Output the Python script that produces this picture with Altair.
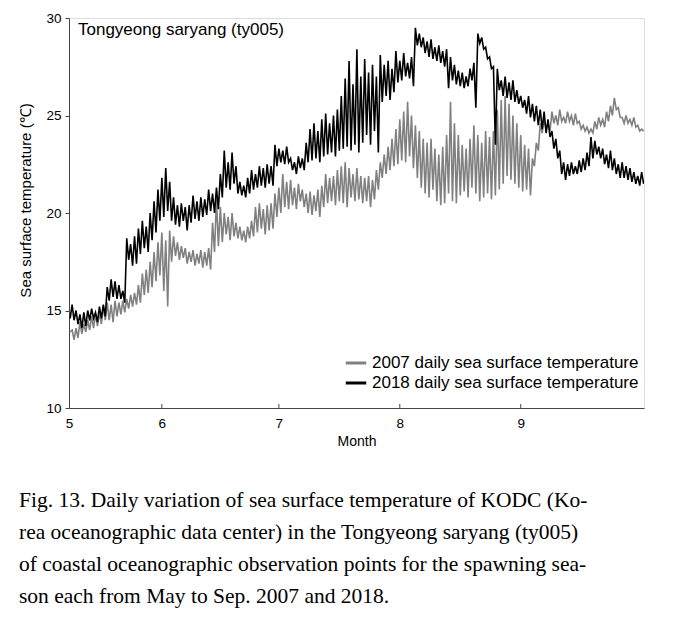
import altair as alt
import pandas as pd

# x = days since 1 May (tick positions mark month starts); domain from ~8 May to ~1 Oct
x_domain = [7.2, 154.6]
tick_pos = [7.2, 31, 61, 92, 123]
tick_lab = ["5", "6", "7", "8", "9"]

days = list(range(7, 155))

hi_2018 = [15.2, 15.3, 15.0, 14.8, 14.9, 15.0, 15.1, 14.9, 15.2, 15.3,
           16.2, 16.6, 16.5, 16.3, 16.0, 18.7, 18.4, 18.8, 19.2, 19.6,
           19.3, 20.0, 20.6, 21.2, 21.8, 22.3, 21.6, 20.8, 20.4, 20.5,
           20.3, 20.4, 20.9, 20.6, 20.8, 20.7, 21.2, 21.0, 21.3, 22.0,
           23.2, 22.6, 23.1, 22.4, 21.6, 21.4, 21.8, 22.2, 22.0, 22.4,
           22.3, 22.5, 22.4, 23.5, 23.3, 23.2, 23.4, 22.8, 22.6, 22.9,
           22.8, 23.6, 24.3, 24.6, 24.2, 24.8, 25.1, 24.6, 25.0, 25.3,
           26.0, 26.9, 27.8, 26.6, 28.4, 27.0, 27.9, 27.2, 27.6, 27.0,
           28.1, 27.6, 27.8, 27.4, 28.3, 27.8, 28.2, 27.7, 28.0, 29.5,
           29.2, 29.0, 28.8, 28.9, 28.5, 28.6, 28.3, 28.4, 28.0, 27.6,
           27.3, 27.2, 27.0, 27.4, 27.7, 29.2, 29.0, 28.5, 28.0, 27.5,
           27.4, 26.8, 27.0, 26.7, 26.8, 26.3, 26.0, 25.8, 26.0, 25.6,
           25.5, 25.3, 25.2, 24.8, 24.2, 23.8, 23.2, 22.6, 22.5, 22.6,
           22.4, 22.7, 22.8, 23.1, 23.9, 23.7, 23.4, 23.3, 23.0, 23.2,
           22.8, 22.5, 22.6, 22.4, 22.3, 22.1, 21.9, 22.1]
lo_2018 = [14.6, 14.5, 14.3, 14.1, 14.2, 14.5, 14.6, 14.4, 14.6, 14.7,
           15.5, 15.7, 15.6, 15.6, 15.4, 17.6, 17.3, 17.4, 17.9, 18.2,
           18.0, 18.6, 19.0, 19.6, 19.8, 20.1, 19.6, 19.4, 19.3, 19.6,
           19.1, 19.5, 19.7, 19.6, 19.8, 19.9, 20.1, 20.0, 20.2, 20.8,
           21.3, 21.2, 21.5, 21.0, 20.9, 20.8, 21.0, 21.2, 21.3, 21.4,
           21.3, 21.5, 21.4, 22.4, 22.6, 22.5, 22.6, 22.2, 22.0, 22.3,
           22.2, 22.6, 22.7, 22.8, 22.6, 22.9, 23.0, 23.1, 22.9, 23.2,
           23.3, 23.4, 23.2, 23.5, 23.1, 23.6, 24.0, 23.5, 24.2, 23.1,
           25.7, 26.0, 25.8, 26.2, 26.7, 26.8, 27.0, 26.9, 26.5, 28.6,
           28.5, 28.2, 28.0, 27.9, 27.8, 27.7, 27.5, 26.4, 26.8, 26.6,
           26.5, 26.4, 26.5, 26.8, 25.4, 28.7, 28.4, 27.9, 27.4, 23.5,
           26.3, 26.0, 25.9, 25.8, 25.7, 25.6, 25.4, 25.1, 24.9, 24.7,
           24.5, 24.3, 24.1, 23.9, 23.3, 22.8, 22.0, 21.7, 21.9, 22.0,
           22.0, 22.1, 22.2, 22.4, 22.8, 23.0, 22.8, 22.5, 22.3, 22.2,
           22.0, 21.8, 21.8, 21.7, 21.6, 21.5, 21.4, 21.5]

hi_2007 = [14.3, 14.0, 14.1, 14.4, 14.3, 14.5, 14.7, 14.8, 14.9, 15.2,
           15.4, 15.3, 15.5, 15.4, 15.5, 15.6, 15.8, 15.9, 16.3, 16.9,
           17.1, 17.5, 18.0, 18.5, 19.0, 18.6, 19.1, 18.8, 18.5, 18.3,
           18.2, 18.0, 18.1, 17.9, 18.1, 18.0, 18.2, 19.5, 20.7, 20.3,
           20.0, 19.8, 20.0, 19.5, 19.3, 19.1, 19.3, 19.6, 20.3, 20.5,
           20.2, 20.4, 20.5, 21.0, 21.3, 22.0, 21.6, 21.7, 21.3, 21.5,
           21.2, 21.0, 21.1, 20.9, 21.2, 21.4, 22.0, 21.8, 21.9, 22.2,
           22.4, 22.6, 22.3, 22.0, 22.3, 21.9, 21.8, 21.9, 21.7, 22.2,
           22.6, 23.0, 23.4, 23.8, 24.3, 24.8, 25.2, 25.7, 25.0, 24.5,
           24.2, 23.8, 23.6, 23.8, 23.3, 23.0, 23.4, 24.0, 25.7, 24.6,
           24.0, 23.5, 23.3, 23.8, 24.5, 24.0, 23.6, 24.2, 23.9, 24.2,
           25.3, 25.8, 26.0, 25.6, 25.0, 24.6, 24.0, 23.5, 23.3, 22.8,
           23.6, 24.6, 24.8, 24.6, 25.2, 25.0, 25.3, 24.9, 25.2, 25.0,
           25.1, 24.7, 24.5, 24.4, 24.3, 24.7, 24.9, 24.8, 25.2, 25.5,
           25.9, 25.4, 24.9, 25.0, 24.8, 24.9, 24.5, 24.3]
lo_2007 = [13.9, 13.5, 13.6, 13.8, 13.9, 14.0, 14.1, 14.2, 14.3, 14.5,
           14.5, 14.4, 14.7, 14.8, 14.9, 15.1, 15.2, 15.3, 15.4, 15.8,
           15.9, 16.2, 16.5, 16.8, 16.0, 15.2, 17.5, 17.8, 17.6, 17.7,
           17.4, 17.5, 17.3, 17.4, 17.2, 17.3, 17.1, 18.0, 18.3, 18.5,
           18.9, 18.6, 18.8, 18.7, 18.6, 18.5, 18.7, 18.8, 19.0, 19.2,
           18.9, 19.1, 19.2, 19.8, 20.0, 20.3, 20.2, 20.4, 20.2, 20.6,
           20.3, 20.0, 19.9, 20.1, 19.8, 20.3, 20.5, 20.6, 20.4, 20.6,
           20.5, 20.3, 20.8, 20.6, 20.7, 20.5, 20.6, 20.3, 20.7, 21.2,
           21.8, 22.0, 22.2, 22.4, 22.5, 22.7, 22.6, 22.9, 22.3, 21.8,
           21.3, 21.0, 20.8, 21.2, 20.6, 20.4, 20.5, 21.0, 20.6, 20.5,
           20.9, 21.1, 20.8, 21.3, 21.0, 20.6, 20.8, 21.0, 20.7, 20.9,
           21.2, 21.5, 21.9, 21.7, 21.5, 21.3, 21.1, 21.2, 20.9, 22.4,
           23.2, 24.1, 24.3, 24.2, 24.6, 24.5, 24.7, 24.6, 24.7, 24.5,
           24.6, 24.3, 24.2, 24.1, 24.1, 24.3, 24.5, 24.4, 24.7, 25.0,
           25.3, 24.9, 24.6, 24.6, 24.5, 24.4, 24.2, 24.2]

series_names = ["2007 daily sea surface temperature", "2018 daily sea surface temperature"]
series_colors = ["#808080", "#000000"]

caption = [
    "Fig. 13. Daily variation of sea surface temperature of KODC (Ko-",
    "rea oceanographic data center) in the Tongyeong saryang (ty005)",
    "of coastal oceanographic observation points for the spawning sea-",
    "son each from May to Sep. 2007 and 2018.",
]

rows = []
for name, hi, lo in [(series_names[0], hi_2007, lo_2007), (series_names[1], hi_2018, lo_2018)]:
    for d, h, l in zip(days, hi, lo):
        rows.append({"day": d, "sst": h, "series": name})
        rows.append({"day": d + 0.5, "sst": l, "series": name})
df = pd.DataFrame(rows)
df = df[(df["day"] >= x_domain[0]) & (df["day"] <= x_domain[1])]

W, H = 575, 390
label_expr = "{" + ",".join(f"'{p}':'{l}'" for p, l in zip(tick_pos, tick_lab)) + "}[datum.value]"

xscale = alt.Scale(domain=x_domain, nice=False, zero=False)
yscale = alt.Scale(domain=[10, 30], nice=False, zero=False)

lines = alt.Chart(df).mark_line(strokeWidth=1.6, clip=True).encode(
    x=alt.X("day:Q", scale=xscale,
            axis=alt.Axis(title="Month", values=tick_pos, labelExpr=label_expr, ticks=False,
                          labelPadding=8, titlePadding=5, labelFontSize=13.5, titleFontSize=14,
                          titleFontWeight="normal", domainColor="#444", labelColor="black",
                          titleColor="black", grid=False, labelFlush=False)),
    y=alt.Y("sst:Q", scale=yscale,
            axis=alt.Axis(title="Sea surface temperature (℃)", values=[10, 15, 20, 25, 30],
                          tickSize=4, labelPadding=4, titlePadding=12, labelFontSize=13.5,
                          titleFontSize=15, titleY=182, titleFontWeight="normal", domainColor="#444",
                          tickColor="#444", labelColor="black", titleColor="black", grid=False)),
    color=alt.Color("series:N", scale=alt.Scale(domain=series_names, range=series_colors),
                    legend=alt.Legend(title=None, orient="none", legendX=275, legendY=333,
                                      symbolType="stroke", symbolStrokeWidth=3, symbolSize=420,
                                      labelFontSize=17, labelLimit=0, rowPadding=0,
                                      labelOffset=4,
                                      labelColor="black", labelFont="Liberation Sans")),
    detail="series:N",
    order="day:Q",
)

ticks_df = pd.DataFrame({"pos": tick_pos[1:]})
xticks = alt.Chart(ticks_df).mark_rule(color="#444", strokeWidth=1).encode(
    x=alt.X("pos:Q", scale=xscale),
    y=alt.value(H),
    y2=alt.value(H - 4),
)

label = alt.Chart(pd.DataFrame({"t": ["Tongyeong saryang (ty005)"]})).mark_text(
    align="left", baseline="middle", fontSize=17, font="Liberation Sans", color="black"
).encode(text="t:N", x=alt.value(9), y=alt.value(12))

chart = alt.layer(lines, xticks, label).properties(
    width=W, height=H,
    padding={"left": 10, "top": 3, "right": 10, "bottom": 5},
    title=alt.TitleParams(text=caption, orient="bottom", anchor="start", frame="bounds",
                          font="Liberation Serif", fontSize=21.5, fontWeight="normal",
                          lineHeight=32, offset=41, dx=0, color="black"),
).configure_view(stroke="#999", strokeWidth=1).configure_axis(
    labelFont="Liberation Sans", titleFont="Liberation Sans"
).configure(background="white")

chart.save("out.html", embed_options={"renderer": "svg", "actions": False})
